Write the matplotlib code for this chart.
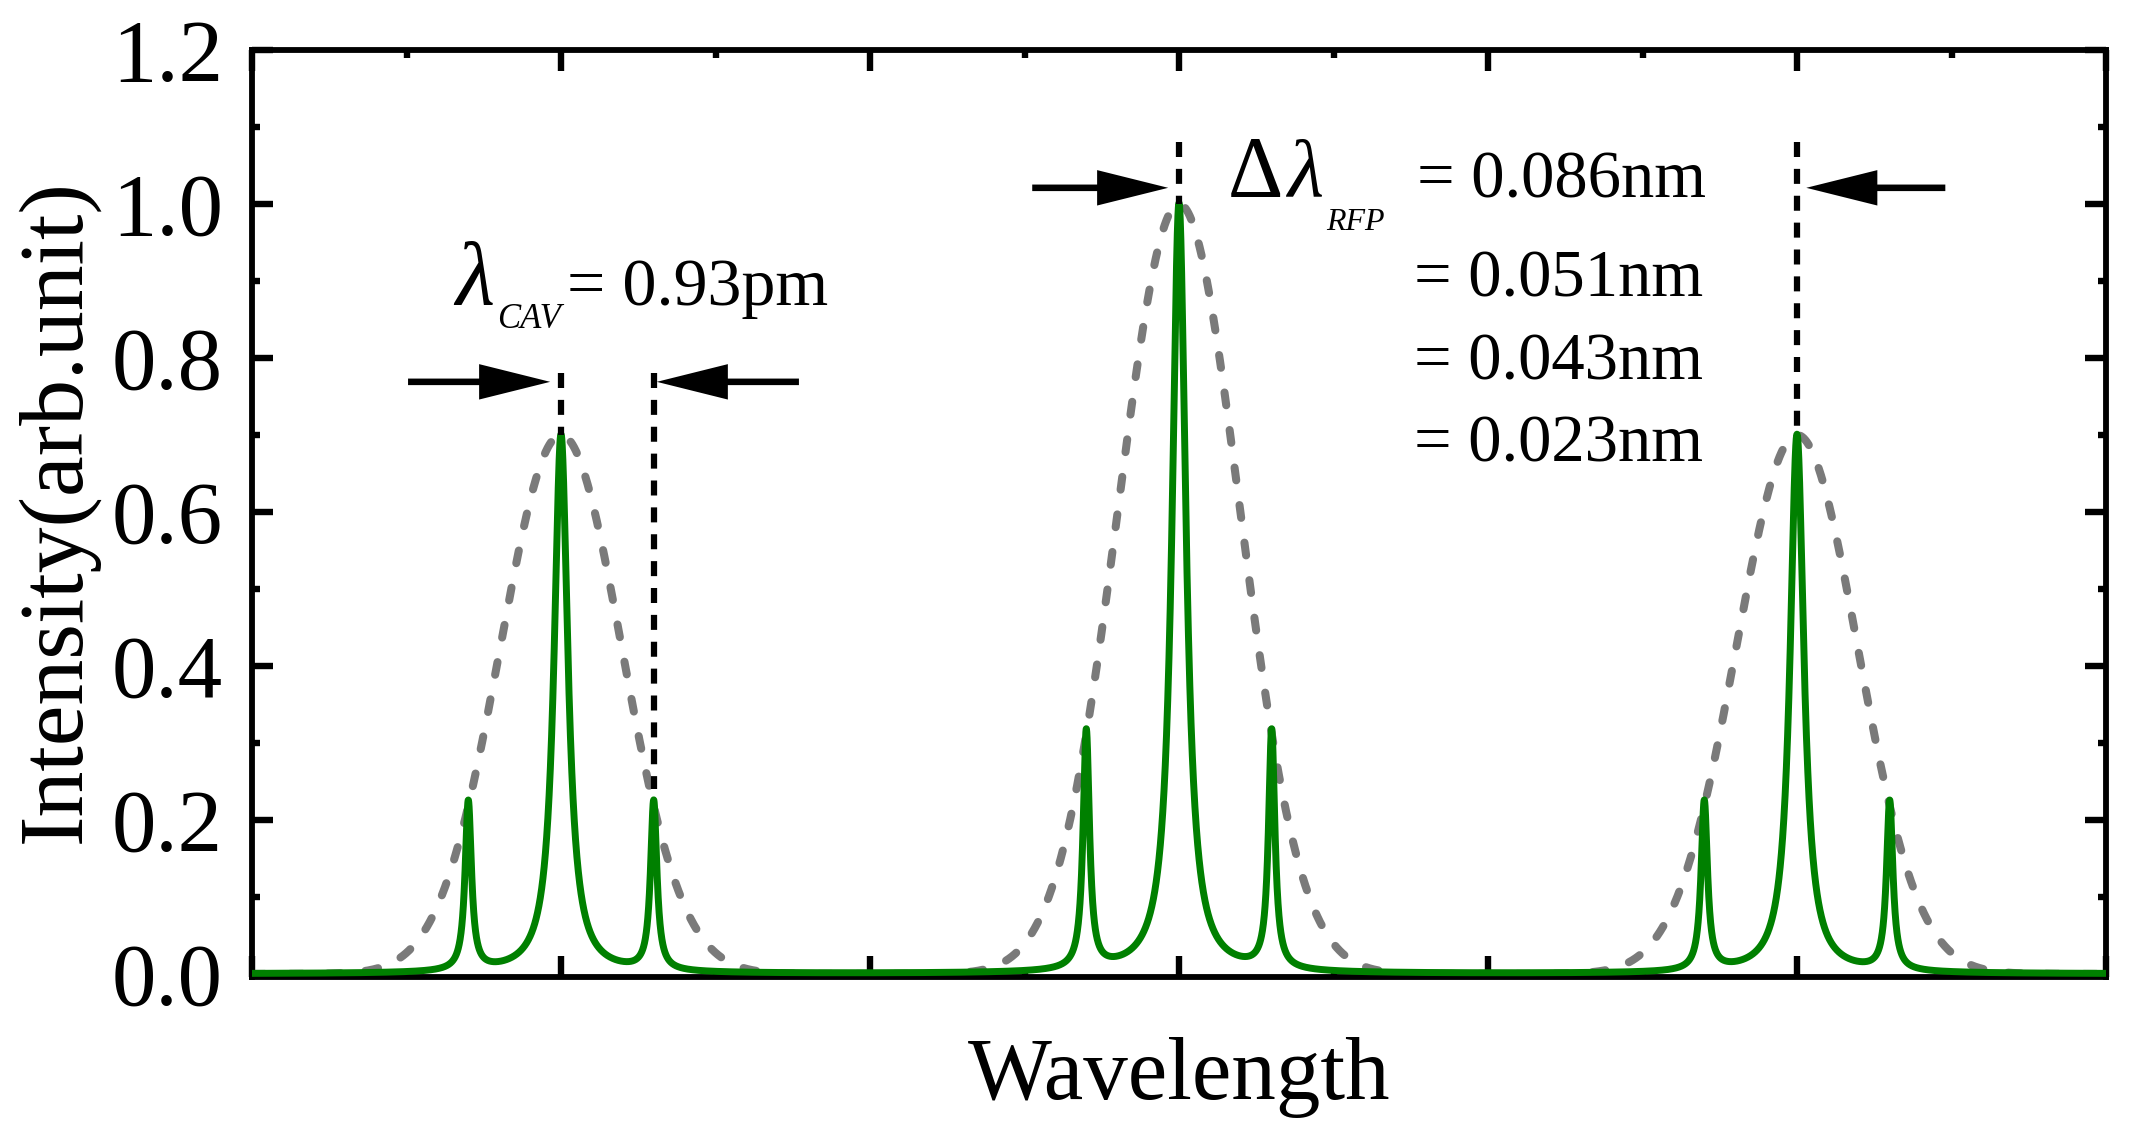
import numpy as np
import matplotlib.pyplot as plt
from matplotlib.ticker import MultipleLocator, FormatStrFormatter

plt.rcParams['font.family'] = ['Liberation Serif', 'DejaVu Serif']

## Data
# green comb peaks (position, height, half width at half max)
peak_pos = [1.4, 2.0, 2.6, 5.4, 6.0, 6.6, 9.4, 10.0, 10.6]
peak_height = [0.22, 0.70, 0.22, 0.31, 1.00, 0.31, 0.22, 0.70, 0.22]
peak_hwhm = [0.025, 0.054, 0.025, 0.025, 0.054, 0.025, 0.025, 0.054, 0.025]

# gray dashed envelopes
env_pos = [2.0, 6.0, 10.0]
env_height = [0.70, 1.00, 0.70]
env_sigma = [0.393, 0.393, 0.393]

# annotation texts
cav_value = '= 0.93pm'
rfp_values = ['= 0.086nm', '= 0.051nm', '= 0.043nm', '= 0.023nm']
rfp_baselines = [1.008, 0.880, 0.772, 0.665]
rfp_left = [7.54, 7.52, 7.52, 7.52]

# marker lines: (x, y top, y bottom)
guide_lines = [(2.0, 0.78, 0.70), (2.6, 0.78, 0.24), (6.0, 1.08, 1.0), (10.0, 1.08, 0.71)]
# arrows: (tail x, tip x, y)
arrows = [(1.01, 1.93, 0.769), (3.54, 2.62, 0.769), (5.05, 5.93, 1.021), (10.96, 10.06, 1.021)]


def lorentz(x, x0, h, g):
    return h * g**2 / ((x - x0)**2 + g**2)


def gauss(x, x0, h, s):
    return h * np.exp(-(x - x0)**2 / (2 * s**2))


def main():
    x = np.linspace(0, 12, 12001)
    green = np.zeros_like(x)
    for p, h, g in zip(peak_pos, peak_height, peak_hwhm):
        green += lorentz(x, p, h, g)
    gray = np.zeros_like(x)
    for p, h, s in zip(env_pos, env_height, env_sigma):
        gray += gauss(x, p, h, s)

    fig = plt.figure(figsize=(21.32, 11.27), dpi=100)
    ax = fig.add_axes([252 / 2132, 1 - 977 / 1127, 1854 / 2132, 927 / 1127])

    ax.plot(x, gray, color='#7a7a7a', lw=5.8, linestyle=(0, (1.6, 3.1)),
            dash_capstyle='round', zorder=2)
    ax.plot(x, green, color='#008000', lw=5.0, zorder=3)

    # dashed guide lines
    for gx, y0, y1 in guide_lines:
        ax.plot([gx, gx], [y0, y1], color='k', lw=4.5, linestyle=(0, (2.4, 1.9)), zorder=4)

    # arrows (horizontal, sizes in data units)
    for tail, tip, ay in arrows:
        ax.arrow(tail, ay, tip - tail, 0, width=0.0085, head_width=0.046,
                 head_length=0.46, length_includes_head=True, color='k', lw=0, zorder=4)

    # texts
    ax.text(1.314, 0.869, 'λ', fontsize=65, style='italic', ha='left', va='baseline')
    ax.text(1.586, 0.839, 'CAV', fontsize=25, style='italic', ha='left', va='baseline')
    ax.text(2.039, 0.869, cav_value, fontsize=49, ha='left', va='baseline')

    ax.text(6.317, 1.010, 'Δ', fontsize=62, ha='left', va='baseline')
    ax.text(6.70, 1.010, 'λ', fontsize=60, style='italic', ha='left', va='baseline')
    ax.text(6.95, 0.966, 'RFP', fontsize=23, style='italic', ha='left', va='baseline')
    for s, yb, xl in zip(rfp_values, rfp_baselines, rfp_left):
        ax.text(xl, yb, s, fontsize=48, ha='left', va='baseline')

    ax.set_xlim(0, 12)
    ax.set_ylim(-0.004, 1.2)
    ax.xaxis.set_major_locator(MultipleLocator(2))
    ax.xaxis.set_minor_locator(MultipleLocator(1))
    ax.yaxis.set_major_locator(MultipleLocator(0.2))
    ax.yaxis.set_minor_locator(MultipleLocator(0.1))
    ax.yaxis.set_major_formatter(FormatStrFormatter('%.1f'))

    ax.tick_params(which='both', direction='in', top=True, right=True, width=4.6,
                   labelsize=64, pad=21, labelbottom=False)
    ax.tick_params(which='major', length=15)
    ax.tick_params(which='minor', length=6)
    for sp in ax.spines.values():
        sp.set_linewidth(4.2)

    ax.set_ylabel('Intensity(arb.unit)', fontsize=66)
    ax.yaxis.set_label_coords(-0.0825, 0.503)
    ax.set_xlabel('Wavelength', fontsize=64)
    ax.xaxis.set_label_coords(0.5, -0.0647)

    fig.savefig('out.png', dpi=100)


if __name__ == "__main__":
    main()
